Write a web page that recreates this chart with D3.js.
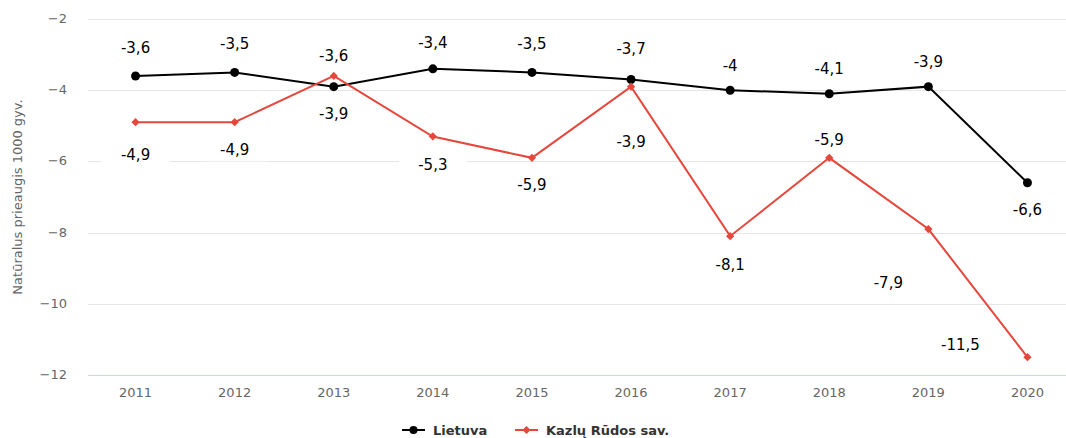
<!DOCTYPE html>
<html>
<head>
<meta charset="utf-8">
<script src="https://cdn.jsdelivr.net/npm/d3@7"></script>
<style>
  body { margin: 0; background: #fff; }
  svg { display: block; font-family: "DejaVu Sans", Verdana, sans-serif; }
</style>
</head>
<body>
<svg id="chart" width="1066" height="438"></svg>
<script>
// data
var years = ["2011", "2012", "2013", "2014", "2015", "2016", "2017", "2018", "2019", "2020"];
var lietuva = [-3.6, -3.5, -3.9, -3.4, -3.5, -3.7, -4, -4.1, -3.9, -6.6];
var kazluRudos = [-4.9, -4.9, -3.6, -5.3, -5.9, -3.9, -8.1, -5.9, -7.9, -11.5];
var yTicks = [-2, -4, -6, -8, -10, -12];
var seriesNames = ["Lietuva", "Kazlų Rūdos sav."];

// label placement (dx, dy from the point)
var lietuvaLabelPos = [[0,-28],[0,-28],[0,27],[0,-26],[0,-28],[0,-31],[0,-24],[0,-25],[0,-25],[0,27]];
var kazluLabelPos = [[0,33],[0,28],[0,-20],[0,29],[0,27],[0,55],[0,29],[0,-18],[-40,54],[-67,-12]];

var svg = d3.select("#chart");

var x = d3.scaleBand().domain(years).range([86, 1077]);
var y = d3.scaleLinear().domain([-12, -2]).range([375, 19]);
var cx = function (d, i) { return x(years[i]) + x.bandwidth() / 2; };

// grid
svg.append("g").selectAll("line")
  .data(yTicks.filter(function (t) { return t !== -12; }))
  .join("line")
  .attr("x1", 88).attr("x2", 1066)
  .attr("y1", function (d) { return Math.round(y(d)) + 0.5; })
  .attr("y2", function (d) { return Math.round(y(d)) + 0.5; })
  .attr("stroke", "#e6e6e6").attr("stroke-width", 1);

// x axis line
svg.append("line")
  .attr("x1", 88).attr("x2", 1066)
  .attr("y1", Math.round(y(-12)) + 0.5).attr("y2", Math.round(y(-12)) + 0.5)
  .attr("stroke", "#ccd6eb");

// y tick labels
svg.append("g").selectAll("text")
  .data(yTicks)
  .join("text")
  .attr("x", 67)
  .attr("y", function (d) { return y(d) + 4; })
  .attr("text-anchor", "end")
  .attr("fill", "#666")
  .attr("font-size", 13)
  .text(function (d) { return d3.format("")(d).replace("-", "\u2212"); });

// x tick labels
svg.append("g").selectAll("text")
  .data(years)
  .join("text")
  .attr("x", function (d) { return x(d) + x.bandwidth() / 2; })
  .attr("y", 397)
  .attr("text-anchor", "middle")
  .attr("fill", "#666")
  .attr("font-size", 13)
  .text(function (d) { return d; });

// y axis title
svg.append("text")
  .attr("transform", "translate(22,197) rotate(-90)")
  .attr("text-anchor", "middle")
  .attr("fill", "#666")
  .attr("font-size", 13)
  .text("Natūralus prieaugis 1000 gyv.");

var line = d3.line()
  .x(cx)
  .y(function (d) { return y(d); });

function drawLabels(values, pos) {
  var g = svg.append("g");
  values.forEach(function (v, i) {
    var px = cx(v, i) + pos[i][0];
    var py = y(v) + pos[i][1];
    g.append("rect")
      .attr("x", px - 34).attr("y", py - 11)
      .attr("width", 68).attr("height", 22)
      .attr("fill", "#fff");
    g.append("text")
      .attr("x", px).attr("y", py + 5)
      .attr("text-anchor", "middle")
      .attr("fill", "#000")
      .attr("font-size", 15)
      .text(String(v).replace(".", ","));
  });
}

// labels first (white boxes sit behind lines)
drawLabels(kazluRudos, kazluLabelPos);
drawLabels(lietuva, lietuvaLabelPos);

// Lietuva
svg.append("path")
  .datum(lietuva)
  .attr("d", line)
  .attr("fill", "none")
  .attr("stroke", "#000")
  .attr("stroke-width", 2);
svg.append("g").selectAll("circle")
  .data(lietuva)
  .join("circle")
  .attr("cx", cx)
  .attr("cy", function (d) { return y(d); })
  .attr("r", 4.5)
  .attr("fill", "#000");

// Kazlų Rūdos
var red = "#e5473c";
var diamond = d3.symbol().type(d3.symbolSquare).size(34);
svg.append("path")
  .datum(kazluRudos)
  .attr("d", line)
  .attr("fill", "none")
  .attr("stroke", red)
  .attr("stroke-width", 2);
svg.append("g").selectAll("path")
  .data(kazluRudos)
  .join("path")
  .attr("d", diamond)
  .attr("transform", function (d, i) { return "translate(" + cx(d, i) + "," + y(d) + ") rotate(45)"; })
  .attr("fill", red);

// legend
var legend = svg.append("g");
var legendItems = [
  { name: seriesNames[0], color: "#000", x: 402, shape: "circle" },
  { name: seriesNames[1], color: red, x: 515, shape: "diamond" }
];
legendItems.forEach(function (it) {
  legend.append("line")
    .attr("x1", it.x).attr("x2", it.x + 23)
    .attr("y1", 430).attr("y2", 430)
    .attr("stroke", it.color).attr("stroke-width", 2);
  if (it.shape === "circle") {
    legend.append("circle").attr("cx", it.x + 11.5).attr("cy", 430).attr("r", 4).attr("fill", it.color);
  } else {
    legend.append("path")
      .attr("d", diamond)
      .attr("transform", "translate(" + (it.x + 11.5) + ",430) rotate(45)")
      .attr("fill", it.color);
  }
  legend.append("text")
    .attr("x", it.x + 31).attr("y", 435)
    .attr("fill", "#333")
    .attr("font-size", 13)
    .attr("font-weight", "bold")
    .text(it.name);
});
</script>
</body>
</html>
